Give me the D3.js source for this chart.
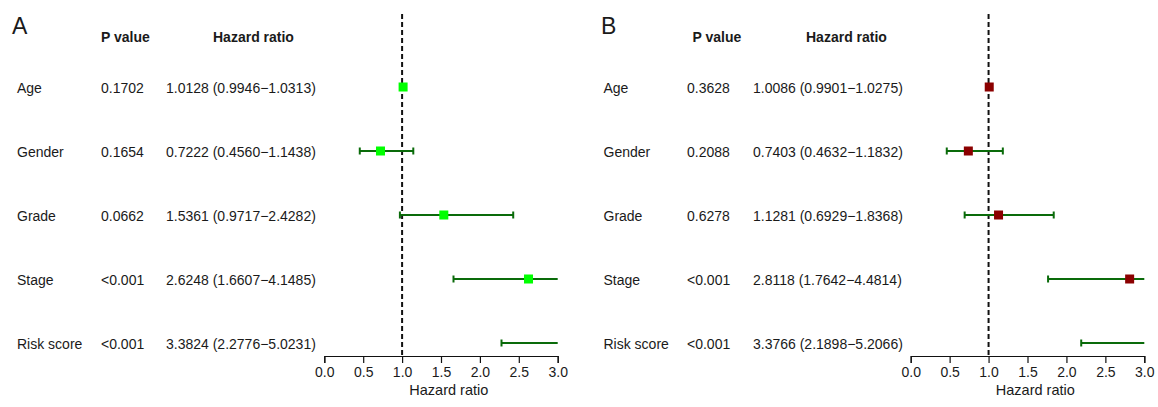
<!DOCTYPE html>
<html>
<head>
<meta charset="utf-8">
<script src="https://cdn.jsdelivr.net/npm/d3@7"></script>
<style>
  html, body { margin: 0; padding: 0; background: #fff; }
  svg { display: block; font-family: "Liberation Sans", Arial, Helvetica, sans-serif; }
</style>
</head>
<body>
<svg id="chart" width="1158" height="407"></svg>
<script>
// ---- data ----
const categories = ["Age", "Gender", "Grade", "Stage", "Risk score"];

const pValuesA = ["0.1702", "0.1654", "0.0662", "<0.001", "<0.001"];
const hrA      = [1.0128, 0.7222, 1.5361, 2.6248, 3.3824];
const lowA     = [0.9946, 0.4560, 0.9717, 1.6607, 2.2776];
const highA    = [1.0313, 1.1438, 2.4282, 4.1485, 5.0231];

const pValuesB = ["0.3628", "0.2088", "0.6278", "<0.001", "<0.001"];
const hrB      = [1.0086, 0.7403, 1.1281, 2.8118, 3.3766];
const lowB     = [0.9901, 0.4632, 0.6929, 1.7642, 2.1898];
const highB    = [1.0275, 1.1832, 1.8368, 4.4814, 5.2066];

const xTicks = [0, 0.5, 1, 1.5, 2, 2.5, 3];
const headers = ["P value", "Hazard ratio"];
const axisTitle = "Hazard ratio";
const panelLetters = ["A", "B"];

// ---- layout ----
const panels = [
  { letter: panelLetters[0], p: pValuesA, hr: hrA, low: lowA, high: highA,
    letterX: 12, labelX: 17, pX: 101, hrX: 166, headPX: 101, headHRX: 213,
    axis: [324.3, 557.7], boxColor: "#00ff00" },
  { letter: panelLetters[1], p: pValuesB, hr: hrB, low: lowB, high: highB,
    letterX: 601, labelX: 603.5, pX: 687, hrX: 753, headPX: 692.5, headHRX: 806,
    axis: [910.7, 1144.3], boxColor: "#8b0000" }
];

const svg = d3.select("#chart");
svg.append("rect").attr("width", 1158).attr("height", 407).attr("fill", "#fff");

const y = d3.scalePoint().domain(categories).range([87, 343]);
const axisY = 356;
const textColor = "#1a1a1a";
const barColor = "#0a6b0a";
const fmt = v => v.toFixed(4);

panels.forEach(P => {
  const g = svg.append("g");
  const xMin = xTicks[0], xMax = xTicks[xTicks.length - 1];
  const x = d3.scaleLinear().domain([xMin, xMax]).range(P.axis);

  // panel letter
  g.append("text").attr("x", P.letterX).attr("y", 33.5)
    .style("font-size", "23px").attr("fill", textColor).text(P.letter);

  // headers
  g.append("text").attr("x", P.headPX).attr("y", 37).attr("dy", "0.35em")
    .style("font-size", "14px").attr("font-weight", "bold").attr("fill", textColor).text(headers[0]);
  g.append("text").attr("x", P.headHRX).attr("y", 37).attr("dy", "0.35em")
    .style("font-size", "14px").attr("font-weight", "bold").attr("fill", textColor).text(headers[1]);

  // row texts
  categories.forEach((c, i) => {
    const yy = y(c) + 1.5;
    g.append("text").attr("x", P.labelX).attr("y", yy).attr("dy", "0.35em")
      .style("font-size", "14px").attr("fill", textColor).text(c);
    g.append("text").attr("x", P.pX).attr("y", yy).attr("dy", "0.35em")
      .style("font-size", "14px").attr("fill", textColor).text(P.p[i]);
    g.append("text").attr("x", P.hrX).attr("y", yy).attr("dy", "0.35em")
      .style("font-size", "14px").attr("fill", textColor)
      .text(`${fmt(P.hr[i])} (${fmt(P.low[i])}\u2212${fmt(P.high[i])})`);
  });

  // reference line at HR = 1
  g.append("line").attr("x1", x(1)).attr("x2", x(1)).attr("y1", 14).attr("y2", axisY)
    .attr("stroke", "#111").attr("stroke-width", 2).attr("stroke-dasharray", "5,3");

  // error bars
  categories.forEach((c, i) => {
    const lo = Math.max(P.low[i], xMin), hi = Math.min(P.high[i], xMax);
    const yy = y(c);
    g.append("line").attr("x1", x(lo)).attr("x2", x(hi)).attr("y1", yy).attr("y2", yy)
      .attr("stroke", barColor).attr("stroke-width", 2);
    [P.low[i], P.high[i]].forEach(v => {
      if (v >= xMin && v <= xMax) {
        g.append("line").attr("x1", x(v)).attr("x2", x(v)).attr("y1", yy - 3.5).attr("y2", yy + 3.5)
          .attr("stroke", barColor).attr("stroke-width", 2);
      }
    });
  });

  // point estimates
  categories.forEach((c, i) => {
    const v = P.hr[i];
    if (v >= xMin && v <= xMax) {
      g.append("rect").attr("x", x(v) - 4.5).attr("y", y(c) - 4.5)
        .attr("width", 9).attr("height", 9).attr("fill", P.boxColor);
    }
  });

  // x axis
  const axis = d3.axisBottom(x).tickValues(xTicks).tickFormat(d3.format(".1f"))
    .tickSize(7).tickPadding(4);
  const ag = g.append("g").attr("transform", `translate(0,${axisY})`).call(axis);
  ag.attr("font-size", null).attr("font-family", null);
  ag.select(".domain").attr("stroke", "#111").attr("stroke-width", 1.2);
  ag.selectAll(".tick line").attr("stroke", "#111").attr("stroke-width", 1.2);
  ag.selectAll(".tick text").style("font-size", "14px").attr("fill", textColor)
    .style("font-family", "'Liberation Sans', Arial, sans-serif");

  g.append("text").attr("x", x(1.6)).attr("y", 390).attr("dy", "0.35em")
    .attr("text-anchor", "middle").style("font-size", "14.5px").attr("fill", textColor).text(axisTitle);
});
</script>
</body>
</html>
